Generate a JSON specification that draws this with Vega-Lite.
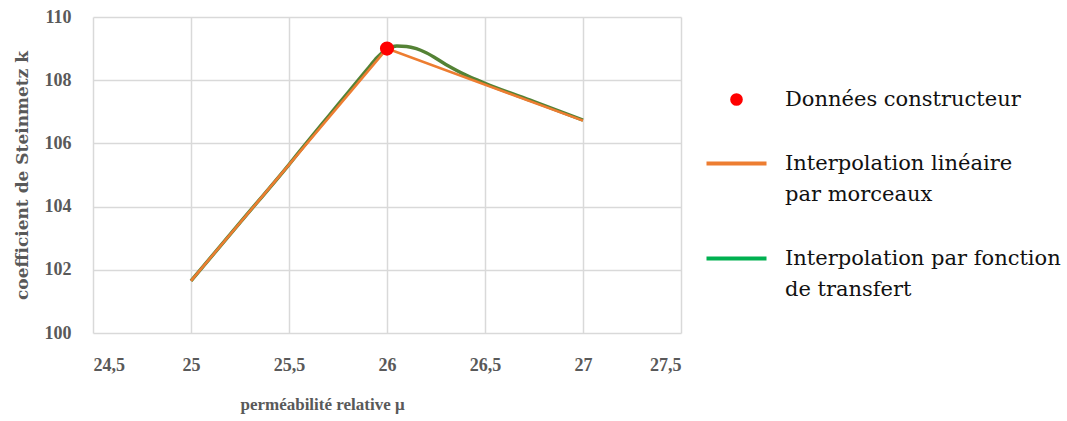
{
  "$schema": "https://vega.github.io/schema/vega-lite/v6.json",
  "autosize": "none",
  "width": 588,
  "height": 316,
  "padding": {"left": 93, "top": 17, "right": 386, "bottom": 88},
  "background": "white",
  "data": {
    "values": [
      {"mu": 26.0, "k": 109.0, "serie": "Données constructeur"},
      {"mu": 25.0, "k": 101.65, "serie": "Interpolation linéaire par morceaux"},
      {"mu": 26.0, "k": 109.0, "serie": "Interpolation linéaire par morceaux"},
      {"mu": 27.0, "k": 106.72, "serie": "Interpolation linéaire par morceaux"},
      {"mu": 25.0, "k": 101.65, "serie": "Interpolation par fonction de transfert"},
      {"mu": 25.25, "k": 103.49, "serie": "Interpolation par fonction de transfert"},
      {"mu": 25.5, "k": 105.33, "serie": "Interpolation par fonction de transfert"},
      {"mu": 25.6, "k": 106.1, "serie": "Interpolation par fonction de transfert"},
      {"mu": 25.7, "k": 106.85, "serie": "Interpolation par fonction de transfert"},
      {"mu": 25.8, "k": 107.6, "serie": "Interpolation par fonction de transfert"},
      {"mu": 25.9, "k": 108.35, "serie": "Interpolation par fonction de transfert"},
      {"mu": 25.95, "k": 108.72, "serie": "Interpolation par fonction de transfert"},
      {"mu": 26.0, "k": 108.98, "serie": "Interpolation par fonction de transfert"},
      {"mu": 26.05, "k": 109.08, "serie": "Interpolation par fonction de transfert"},
      {"mu": 26.1, "k": 109.07, "serie": "Interpolation par fonction de transfert"},
      {"mu": 26.15, "k": 109.0, "serie": "Interpolation par fonction de transfert"},
      {"mu": 26.2, "k": 108.87, "serie": "Interpolation par fonction de transfert"},
      {"mu": 26.3, "k": 108.5, "serie": "Interpolation par fonction de transfert"},
      {"mu": 26.4, "k": 108.17, "serie": "Interpolation par fonction de transfert"},
      {"mu": 26.5, "k": 107.9, "serie": "Interpolation par fonction de transfert"},
      {"mu": 26.75, "k": 107.32, "serie": "Interpolation par fonction de transfert"},
      {"mu": 27.0, "k": 106.74, "serie": "Interpolation par fonction de transfert"}
    ]
  },
  "encoding": {
    "x": {
      "field": "mu", "type": "quantitative",
      "scale": {"domain": [24.5, 27.5], "nice": false, "zero": false},
      "axis": {
        "values": [24.5, 25, 25.5, 26, 26.5, 27, 27.5],
        "labelExpr": "replace(format(datum.value, '.1~f'), '.', ',')",
        "title": "perméabilité relative μ",
        "labelPadding": 23,
        "titlePadding": 22,
        "titleX": 229
      }
    },
    "y": {
      "field": "k", "type": "quantitative",
      "scale": {"domain": [100, 110], "nice": false, "zero": false},
      "axis": {
        "values": [100, 102, 104, 106, 108, 110],
        "title": "coefficient de Steinmetz k",
        "titleFont": "DejaVu Serif",
        "titleFontSize": 17,
        "labelPadding": 22,
        "titlePadding": 13
      }
    },
    "color": {
      "field": "serie", "type": "nominal",
      "scale": {
        "domain": ["Données constructeur", "Interpolation linéaire par morceaux", "Interpolation par fonction de transfert"],
        "range": ["#FF0000", "#ED7D31", "#00B050"]
      },
      "legend": {
        "title": null,
        "orient": "none",
        "legendX": 633,
        "legendY": 72,
        "padding": 0,
        "rowPadding": 42,
        "labelOffset": 38,
        "labelFont": "DejaVu Serif",
        "labelFontSize": 21,
        "labelColor": "#111111",
        "labelLimit": 400,
        "labelBaseline": "middle",
        "symbolSize": 3600,
        "labelExpr": "datum.label == 'Interpolation linéaire par morceaux' ? ['Interpolation linéaire', 'par morceaux'] : datum.label == 'Interpolation par fonction de transfert' ? ['Interpolation par fonction', 'de transfert'] : datum.label",
        "encode": {
          "labels": {
            "update": {
              "font": {"value": "DejaVu Serif"},
              "fontSize": {"value": 21},
              "lineHeight": {"value": 31}
            }
          },
          "symbols": {
            "update": {
              "shape": {"signal": "datum.value == 'Données constructeur' ? 'circle' : 'stroke'"},
              "size": {"signal": "datum.value == 'Données constructeur' ? 160 : 3600"},
              "fill": {"signal": "datum.value == 'Données constructeur' ? '#FF0000' : 'transparent'"},
              "stroke": {"signal": "datum.value == 'Données constructeur' ? '#FF0000' : datum.value == 'Interpolation linéaire par morceaux' ? '#ED7D31' : '#00B050'"},
              "strokeWidth": {"signal": "datum.value == 'Données constructeur' ? 0 : 4"},
              "opacity": {"value": 1},
              "fillOpacity": {"value": 1},
              "strokeOpacity": {"value": 1}
            }
          }
        }
      }
    }
  },
  "layer": [
    {
      "transform": [{"filter": "datum.serie == 'Interpolation par fonction de transfert'"}],
      "mark": {"type": "line", "interpolate": "monotone", "strokeWidth": 3.5},
      "encoding": {"color": {"value": "#548235"}}
    },
    {
      "transform": [{"filter": "datum.serie == 'Interpolation linéaire par morceaux'"}],
      "mark": {"type": "line", "strokeWidth": 2.5}
    },
    {
      "transform": [{"filter": "datum.serie == 'Données constructeur'"}],
      "mark": {"type": "point", "filled": true, "size": 200, "opacity": 1}
    }
  ],
  "config": {
    "view": {"stroke": null},
    "axis": {
      "grid": true,
      "gridColor": "#D9D9D9",
      "gridWidth": 1.5,
      "domain": false,
      "ticks": false,
      "labelFont": "Liberation Serif",
      "labelFontWeight": "bold",
      "labelFontSize": 18,
      "labelColor": "#595959",
      "titleFont": "Liberation Serif",
      "titleFontWeight": "bold",
      "titleFontSize": 17,
      "titleColor": "#595959"
    }
  }
}
